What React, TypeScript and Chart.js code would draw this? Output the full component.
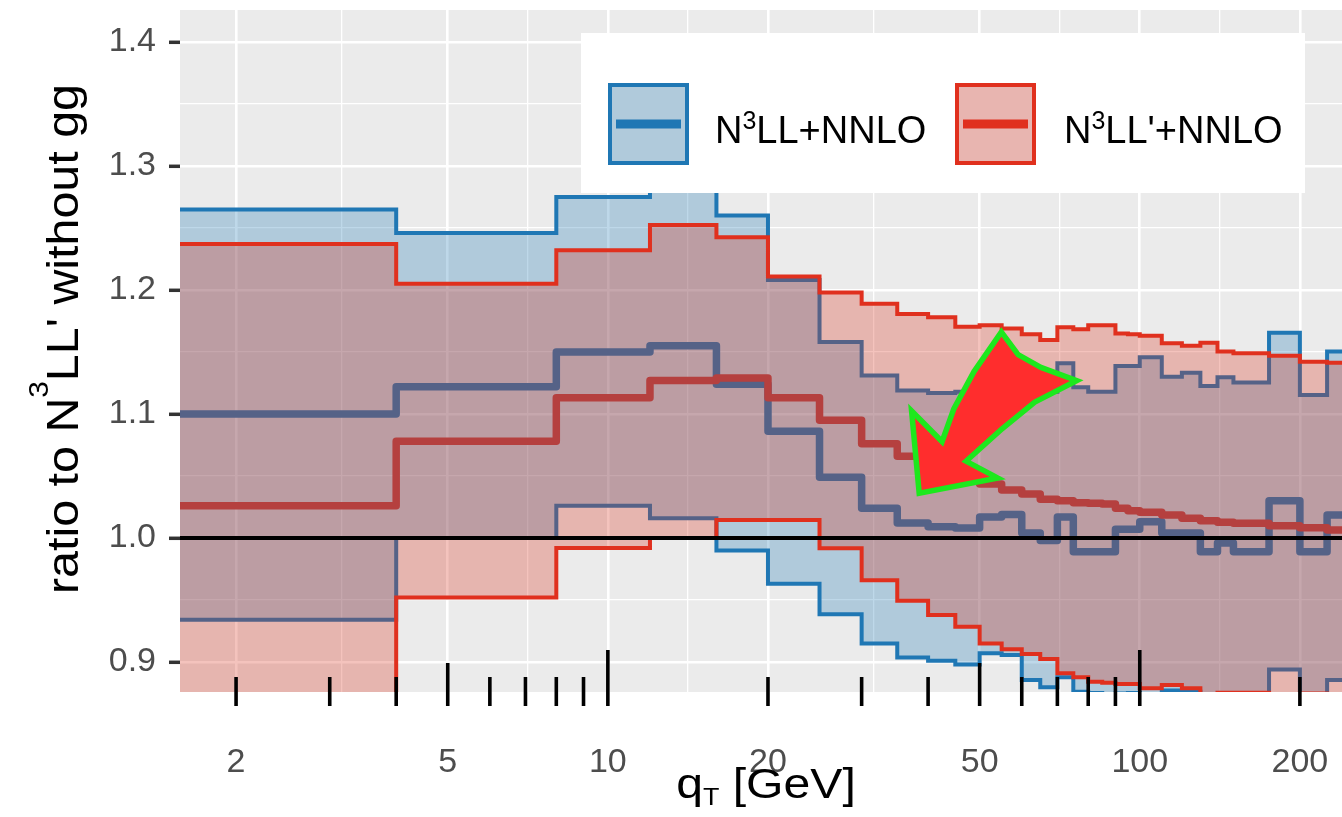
import React, { useEffect, useRef } from "react";
import { Chart, registerables } from "chart.js";

Chart.register(...registerables);

// ---------------- data ----------------
// q_T bin edges [GeV] (first bin starts at 0)
const binEdges = [0, 4, 8, 12, 16, 20, 25, 30, 35, 40, 45, 50, 55, 60, 65, 70, 75, 80, 85, 90, 95, 100, 110, 120, 130, 140, 150, 175, 200, 225, 250];

// N3LL+NNLO (blue)
const n3llUpper = [1.265, 1.246, 1.275, 1.29, 1.26, 1.208, 1.158, 1.131, 1.119, 1.117, 1.118, 1.119, 1.12, 1.118, 1.118, 1.141, 1.1215, 1.118, 1.118, 1.1387, 1.1387, 1.1457, 1.1301, 1.1333, 1.1226, 1.1296, 1.1253, 1.1656, 1.1153, 1.1503];
const n3llCentral = [1.1, 1.122, 1.15, 1.155, 1.124, 1.086, 1.049, 1.024, 1.012, 1.009, 1.008, 1.017, 1.019, 1.004, 0.998, 1.017, 0.989, 0.989, 0.989, 1.007, 1.007, 1.013, 1.004, 1.004, 0.989, 0.996, 0.989, 1.03, 0.989, 1.0185];
const n3llLower = [0.934, 1.0, 1.026, 1.016, 0.99, 0.963, 0.9385, 0.915, 0.9037, 0.901, 0.898, 0.907, 0.9056, 0.8855, 0.8796, 0.8876, 0.876, 0.875, 0.874, 0.8745, 0.875, 0.874, 0.877, 0.876, 0.86, 0.86, 0.86, 0.894, 0.86, 0.8855];

// N3LL'+NNLO (red)
const n3llpUpper = [1.237, 1.205, 1.232, 1.2524, 1.2425, 1.2108, 1.198, 1.189, 1.1806, 1.178, 1.1704, 1.1715, 1.169, 1.1643, 1.1597, 1.17, 1.1683, 1.1715, 1.1715, 1.165, 1.1643, 1.163, 1.157, 1.155, 1.1575, 1.1503, 1.149, 1.147, 1.1422, 1.1414];
const n3llpCentral = [1.026, 1.078, 1.113, 1.127, 1.129, 1.113, 1.095, 1.076, 1.066, 1.057, 1.049, 1.0435, 1.0387, 1.0355, 1.0312, 1.03, 1.0285, 1.028, 1.0274, 1.024, 1.022, 1.0207, 1.0185, 1.0159, 1.014, 1.0127, 1.0118, 1.0099, 1.0083, 1.0065];
const n3llpLower = [0.85, 0.952, 0.992, 1.0, 1.0145, 1.0145, 0.9917, 0.966, 0.9494, 0.9379, 0.9285, 0.915, 0.9102, 0.9065, 0.9024, 0.8909, 0.8876, 0.8841, 0.8833, 0.8823, 0.8823, 0.8788, 0.8815, 0.8788, 0.872, 0.8752, 0.8752, 0.874, 0.8745, 0.872];

// axes
const xMajorTicks = [2, 5, 10, 20, 50, 100, 200];
const xMinorGrid = [3.1623, 7.0711, 14.142, 31.623, 70.711, 141.42];
const yMajorTicks = [0.9, 1.0, 1.1, 1.2, 1.3, 1.4];
const yMinorGrid = [0.95, 1.05, 1.15, 1.25, 1.35];
const logTickValues = [2, 3, 4, 5, 6, 7, 8, 9, 10, 20, 30, 40, 50, 60, 70, 80, 90, 100, 200];
const referenceLine = 1.0;

// annotation arrow outline (data coordinates)
const arrowX = [54.95, 58.6, 64.9, 73.9, 63.0, 54.6, 46.2, 52.2, 38.9, 37.8, 42.7, 45.2, 49.3];
const arrowY = [1.1623, 1.1462, 1.1355, 1.1266, 1.1113, 1.0895, 1.0615, 1.0494, 1.0387, 1.0965, 1.0736, 1.1032, 1.1331];

const X_MIN = 1.569;
const X_MAX = 240;
const Y_MIN = 0.8758;
const Y_MAX = 1.4258;

// ---------------- helpers ----------------
const FONT = "'Liberation Sans', Arial, Helvetica, sans-serif";
const BLUE = "#1F77B4";
const RED = "#E0301E";

function stepPoints(vals: number[]) {
  const pts = vals.map((v, i) => ({ x: Math.max(binEdges[i], 1), y: v }));
  pts.push({ x: binEdges[binEdges.length - 1], y: vals[vals.length - 1] });
  return pts;
}

const isMajorX = (v: number) => xMajorTicks.some((m) => Math.abs(m - v) < 1e-6);
const isMajorY = (v: number) => yMajorTicks.some((m) => Math.abs(m - v) < 1e-6);

type Part = { t: string; size: number; dy?: number };

function drawRich(ctx: CanvasRenderingContext2D, parts: Part[], x: number, y: number, align: "left" | "center", sx: number) {
  let total = 0;
  const widths = parts.map((p) => {
    ctx.font = `${p.size}px ${FONT}`;
    const w = ctx.measureText(p.t).width;
    total += w * sx;
    return w;
  });
  let cx = align === "center" ? x - total / 2 : x;
  parts.forEach((p, i) => {
    ctx.save();
    ctx.font = `${p.size}px ${FONT}`;
    ctx.textBaseline = "alphabetic";
    ctx.textAlign = "left";
    ctx.translate(cx, y + (p.dy || 0));
    ctx.scale(sx, 1);
    ctx.fillText(p.t, 0, 0);
    ctx.restore();
    cx += widths[i] * sx;
  });
}

const decorPlugin = {
  id: "decor",
  beforeDraw(chart: any) {
    const { ctx, chartArea: a } = chart;
    ctx.save();
    ctx.fillStyle = "#EBEBEB";
    ctx.fillRect(a.left, a.top, a.right - a.left, a.bottom - a.top);
    ctx.restore();
  },
  afterDatasetsDraw(chart: any) {
    const { ctx, chartArea: a, scales } = chart;
    const xs = scales.x;
    const ys = scales.y;
    ctx.save();
    // log ticks
    ctx.strokeStyle = "#000";
    ctx.lineWidth = 3.6;
    ctx.lineCap = "butt";
    const base = a.bottom + 14;
    for (const v of logTickValues) {
      const px = xs.getPixelForValue(v);
      const mant = v / Math.pow(10, Math.floor(Math.log10(v) + 1e-9));
      const len = Math.abs(mant - 1) < 1e-6 ? 56 : Math.abs(mant - 5) < 1e-6 ? 43 : 29;
      ctx.beginPath();
      ctx.moveTo(px, base);
      ctx.lineTo(px, base - len);
      ctx.stroke();
    }
    // arrow annotation
    ctx.beginPath();
    arrowX.forEach((xv, i) => {
      const px = xs.getPixelForValue(xv);
      const py = ys.getPixelForValue(arrowY[i]);
      if (i === 0) ctx.moveTo(px, py);
      else ctx.lineTo(px, py);
    });
    ctx.closePath();
    ctx.lineJoin = "miter";
    ctx.miterLimit = 3;
    ctx.lineWidth = 11;
    ctx.strokeStyle = "#1DE81D";
    ctx.stroke();
    ctx.fillStyle = "#FF2D2D";
    ctx.fill();
    ctx.restore();
  },
  afterDraw(chart: any) {
    const { ctx } = chart;
    ctx.save();
    // legend box
    ctx.fillStyle = "#FFFFFF";
    ctx.fillRect(581, 33, 724, 160);
    const drawKey = (x: number, y: number, color: string, fill: string) => {
      ctx.fillStyle = "#EBEBEB";
      ctx.fillRect(x, y, 81, 82);
      ctx.fillStyle = fill;
      ctx.fillRect(x, y, 81, 82);
      ctx.strokeStyle = color;
      ctx.lineWidth = 4;
      ctx.strokeRect(x + 2, y + 2, 77, 78);
      ctx.lineWidth = 9;
      ctx.lineCap = "butt";
      ctx.beginPath();
      ctx.moveTo(x + 8, y + 41);
      ctx.lineTo(x + 73, y + 41);
      ctx.stroke();
    };
    drawKey(608, 83, BLUE, "rgba(31,119,180,0.29)");
    drawKey(955, 83, RED, "rgba(224,48,30,0.29)");
    ctx.fillStyle = "#000";
    drawRich(ctx, [{ t: "N", size: 38 }, { t: "3", size: 25, dy: -14 }, { t: "LL+NNLO", size: 38 }], 715, 143, "left", 1);
    drawRich(ctx, [{ t: "N", size: 38 }, { t: "3", size: 25, dy: -14 }, { t: "LL'+NNLO", size: 38 }], 1064, 143, "left", 1);

    // x title
    drawRich(ctx, [{ t: "q", size: 43 }, { t: "T", size: 24, dy: 7 }, { t: " [GeV]", size: 43 }], 766, 798, "center", 1.12);

    // y title
    ctx.save();
    ctx.translate(78, 339);
    ctx.rotate(-Math.PI / 2);
    drawRich(ctx, [{ t: "ratio to N", size: 44 }, { t: "3", size: 27, dy: -30 }, { t: "LL' without gg", size: 44 }], 0, 0, "center", 1.1);
    ctx.restore();
    ctx.restore();
  },
};

// ---------------- component ----------------
export default function App() {
  const ref = useRef<HTMLCanvasElement>(null);

  useEffect(() => {
    document.body.style.margin = "0";
    const N = 20;
    const fillDs = (vals: number[], order: number, target: number | false, color: string) => ({
      type: "line",
      data: stepPoints(vals),
      borderColor: "rgba(0,0,0,0)",
      borderWidth: 1,
      pointRadius: 0,
      stepped: "before",
      tension: 0,
      fill: target === false ? false : { target },
      backgroundColor: color,
      order,
    });
    const lineDs = (vals: number[], order: number, color: string, width: number, join: string) => ({
      type: "line",
      data: stepPoints(vals),
      borderColor: color,
      borderWidth: width,
      borderJoinStyle: join,
      borderCapStyle: "butt",
      pointRadius: 0,
      stepped: "before",
      tension: 0,
      fill: false,
      order,
    });

    const datasets: any[] = [
      fillDs(n3llLower, N - 0, false, "rgba(0,0,0,0)"), // 0
      fillDs(n3llUpper, N - 1, 0, "rgba(31,119,180,0.29)"), // 1
      lineDs(n3llLower, N - 2, BLUE, 4, "miter"), // 2
      lineDs(n3llUpper, N - 3, BLUE, 4, "miter"), // 3
      lineDs(n3llCentral, N - 4, BLUE, 7.5, "round"), // 4
      fillDs(n3llpLower, N - 5, false, "rgba(0,0,0,0)"), // 5
      fillDs(n3llpUpper, N - 6, 5, "rgba(218,48,28,0.29)"), // 6
      lineDs(n3llpLower, N - 7, RED, 4, "miter"), // 7
      lineDs(n3llpUpper, N - 8, RED, 4, "miter"), // 8
      lineDs(n3llpCentral, N - 9, "#B5403F", 7.5, "round"), // 9
      {
        type: "line",
        data: [
          { x: 1, y: referenceLine },
          { x: 300, y: referenceLine },
        ],
        borderColor: "#000000",
        borderWidth: 4,
        pointRadius: 0,
        fill: false,
        order: N - 10,
      },
    ];

    const chart = new Chart(ref.current as HTMLCanvasElement, {
      type: "line",
      data: { datasets },
      options: {
        responsive: false,
        animation: false,
        events: [],
        layout: { padding: { top: 10, left: 0, right: 0, bottom: 0 } },
        plugins: {
          legend: { display: false },
          tooltip: { enabled: false },
        },
        scales: {
          x: {
            type: "logarithmic",
            position: "bottom",
            min: X_MIN,
            max: X_MAX,
            afterBuildTicks: (s: any) => {
              s.ticks = [...xMajorTicks, ...xMinorGrid].sort((p, q) => p - q).map((v) => ({ value: v }));
            },
            afterFit: (s: any) => {
              s.height = 125;
              s.paddingLeft = 0;
              s.paddingRight = 0;
              s.paddingTop = 0;
              s.paddingBottom = 0;
            },
            border: { display: false },
            grid: {
              color: "#FFFFFF",
              lineWidth: (c: any) => (c.tick && isMajorX(c.tick.value) ? 2.6 : 1.3),
              drawTicks: false,
            },
            ticks: {
              autoSkip: false,
              maxRotation: 0,
              minRotation: 0,
              padding: 50,
              color: "#4D4D4D",
              font: { family: FONT, size: 34 },
              callback: (v: any) => (isMajorX(Number(v)) ? String(Number(v)) : ""),
            },
          },
          y: {
            type: "linear",
            min: Y_MIN,
            max: Y_MAX,
            afterBuildTicks: (s: any) => {
              s.ticks = [...yMajorTicks, ...yMinorGrid].sort((p, q) => p - q).map((v) => ({ value: v }));
            },
            afterFit: (s: any) => {
              s.width = 180;
              s.paddingLeft = 0;
              s.paddingRight = 0;
              s.paddingTop = 0;
              s.paddingBottom = 0;
            },
            border: { display: false },
            grid: {
              color: "#FFFFFF",
              lineWidth: (c: any) => (c.tick && isMajorY(c.tick.value) ? 2.6 : 1.3),
              drawTicks: true,
              tickLength: 11,
              tickWidth: 3.5,
              tickColor: (c: any) => (c.tick && isMajorY(c.tick.value) ? "#333333" : "rgba(0,0,0,0)"),
            },
            ticks: {
              padding: 13,
              color: "#4D4D4D",
              font: { family: FONT, size: 34 },
              callback: (v: any) => (isMajorY(Number(v)) ? Number(v).toFixed(1) : ""),
            },
          },
        },
      } as any,
      plugins: [decorPlugin],
    } as any);

    return () => chart.destroy();
  }, []);

  return (
    <div style={{ width: 1342, height: 817 }}>
      <canvas ref={ref} width={1342} height={817} style={{ display: "block" }} />
    </div>
  );
}
